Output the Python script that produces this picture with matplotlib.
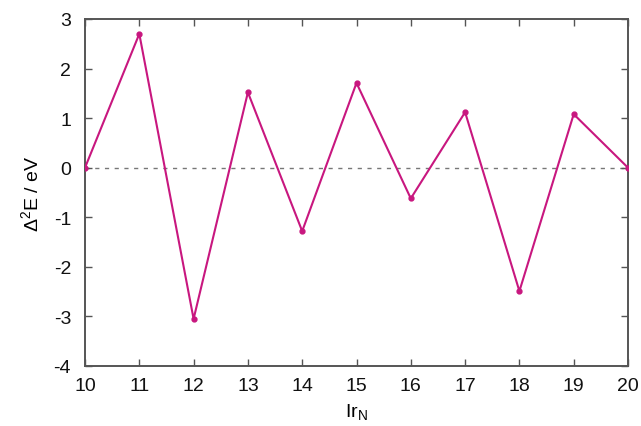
import matplotlib.pyplot as plt
import matplotlib as mpl

mpl.rcParams['font.family'] = ['Liberation Sans', 'DejaVu Sans']
mpl.rcParams['font.size'] = 14
mpl.rcParams['axes.unicode_minus'] = False
mpl.rcParams['mathtext.fontset'] = 'custom'
mpl.rcParams['mathtext.rm'] = 'Liberation Sans'
mpl.rcParams['mathtext.it'] = 'Liberation Sans'

# Datos
cluster_size = [10, 11, 12, 13, 14, 15, 16, 17, 18, 19, 20]
delta2_e = [0.0, 2.70, -3.05, 1.52, -1.28, 1.71, -0.62, 1.12, -2.49, 1.08, 0.0]

x_ticks = list(range(10, 21))
y_ticks = list(range(-4, 4))

fig = plt.figure(figsize=(6.41, 4.27), dpi=100)
ax = fig.add_axes([85 / 641, 1 - 367 / 427, 543 / 641, 347 / 427])

ax.axhline(0, color='#777777', linestyle=(0, (3, 4)), linewidth=1.0, zorder=1)
ax.plot(cluster_size, delta2_e, color='#c8177f', linewidth=1.5,
        marker='o', markersize=3.5, zorder=3)

ax.set_xlim(10, 20)
ax.set_ylim(-4, 3)
ax.set_xticks(x_ticks)
ax.set_yticks(y_ticks)

for s in ax.spines.values():
    s.set_color('#555555')
    s.set_linewidth(1.4)

ax.tick_params(direction='in', length=5, width=1.0, color='#555555',
               top=True, right=True, labelcolor='#111111')
ax.tick_params(axis='x', pad=8)
ax.tick_params(axis='y', pad=10)

ax.set_xlabel(r'Ir$_\mathrm{N}$', labelpad=5)
ax.set_ylabel(r'$\Delta^2$E / eV', labelpad=8)

fig.savefig('out.png', dpi=100)
